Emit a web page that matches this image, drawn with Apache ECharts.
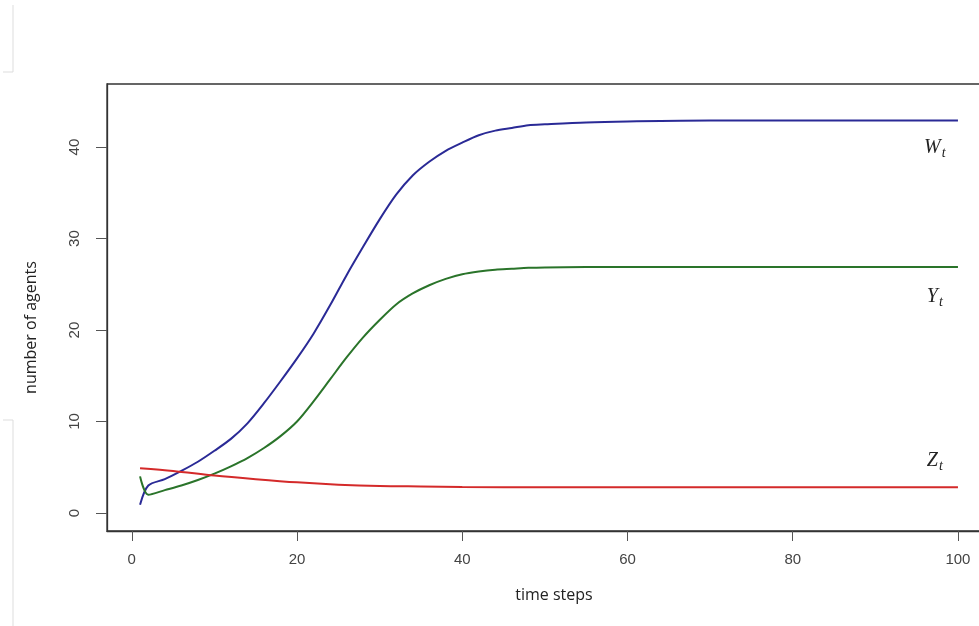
<!DOCTYPE html>
<html>
<head>
<meta charset="utf-8">
<script src="https://cdn.jsdelivr.net/npm/echarts@6/dist/echarts.min.js"></script>
<style>
  html, body { margin: 0; padding: 0; background: #fff; }
  #chart { width: 979px; height: 626px; }
</style>
</head>
<body>
<div id="chart"></div>
<script>
var tW = [1, 2, 4, 6, 8, 10, 12, 14, 16, 18, 20, 22, 24, 26, 28, 30, 32, 34, 36, 38, 40, 42, 44, 46, 48, 50, 55, 60, 70, 80, 90, 100];
var wValues = [0.9, 3.0, 3.7, 4.6, 5.6, 6.8, 8.1, 9.8, 12.0, 14.4, 16.9, 19.6, 22.7, 26.0, 29.1, 32.1, 34.8, 36.9, 38.4, 39.6, 40.5, 41.3, 41.8, 42.1, 42.4, 42.5, 42.7, 42.8, 42.9, 42.9, 42.9, 42.9];
var yValues = [4.0, 2.0, 2.5, 3.0, 3.6, 4.3, 5.1, 6.0, 7.1, 8.4, 10.0, 12.2, 14.6, 17.0, 19.2, 21.1, 22.8, 24.0, 24.9, 25.6, 26.1, 26.4, 26.6, 26.7, 26.8, 26.85, 26.9, 26.9, 26.9, 26.9, 26.9, 26.9];
var tZ = [1, 5, 10, 15, 20, 25, 30, 35, 40, 50, 60, 70, 80, 90, 100];
var zValues = [4.9, 4.6, 4.1, 3.7, 3.35, 3.1, 2.95, 2.9, 2.85, 2.8, 2.8, 2.8, 2.8, 2.8, 2.8];

var xTicks = [0, 20, 40, 60, 80, 100];
var yTicks = [0, 10, 20, 30, 40];

function pairs(xs, ys) {
  var out = [];
  for (var i = 0; i < xs.length; i++) out.push([xs[i], ys[i]]);
  return out;
}

// curve name label (W_t etc) placed near the right end
function nameMark(letter, v) {
  return {
    symbol: 'circle',
    symbolSize: 1,
    itemStyle: { color: 'rgba(0,0,0,0)' },
    label: {
      show: true,
      position: 'inside',
      formatter: '{a|' + letter + '}{b|t}',
      rich: {
        a: { fontFamily: 'Liberation Serif', fontStyle: 'italic', fontSize: 20, color: '#222' },
        b: { fontFamily: 'Liberation Serif', fontStyle: 'italic', fontSize: 14, color: '#222', padding: [10, 0, 0, 1] }
      }
    },
    data: [{ coord: [97.2, v] }]
  };
}

var chart = echarts.init(document.getElementById('chart'));

var option = {
  animation: false,
  backgroundColor: '#fff',
  grid: {
    left: 107,
    top: 84,
    width: 884,
    bottom: 95,
    outerBoundsMode: 'none',
    show: true,
    borderColor: '#333',
    borderWidth: 1.3,
    containLabel: false
  },
  xAxis: {
    type: 'value',
    min: -3,
    max: 104,
    name: 'time steps',
    nameLocation: 'middle',
    nameGap: 56,
    nameTextStyle: { fontFamily: 'Open Sans', fontSize: 16, color: '#222', padding: [0, 0, 0, 10] },
    splitLine: { show: false },
    axisLine: { show: true, onZero: false, lineStyle: { color: '#333', width: 1.3 } },
    axisTick: { show: true, inside: false, length: 10, customValues: xTicks, lineStyle: { color: '#555' } },
    axisLabel: { customValues: xTicks, margin: 21, fontFamily: 'Liberation Sans', fontSize: 15, color: '#444' }
  },
  yAxis: {
    type: 'value',
    min: -1.97,
    max: 46.9,
    name: 'number of agents',
    nameLocation: 'middle',
    nameRotate: 90,
    nameGap: 68,
    nameTextStyle: { fontFamily: 'Open Sans', fontSize: 16, color: '#222', padding: [0, 40, 0, 0] },
    splitLine: { show: false },
    axisLine: { show: true, onZero: false, lineStyle: { color: '#333', width: 1.3 } },
    axisTick: { show: true, inside: false, length: 11, customValues: yTicks, lineStyle: { color: '#555' } },
    axisLabel: { customValues: yTicks, rotate: 90, margin: 25, fontFamily: 'Liberation Sans', fontSize: 15, color: '#444' }
  },
  graphic: [
    { type: 'polyline', shape: { points: [[13, 5], [13, 72], [3, 72]] }, style: { stroke: '#ddd', lineWidth: 1, fill: null } },
    { type: 'polyline', shape: { points: [[3, 420], [13, 420], [13, 626]] }, style: { stroke: '#ddd', lineWidth: 1, fill: null } }
  ],
  series: [
    {
      name: 'W',
      type: 'line',
      data: pairs(tW, wValues),
      showSymbol: false,
      smooth: 0.3,
      lineStyle: { color: '#2a2a96', width: 2 },
      markPoint: nameMark('W', 39.9)
    },
    {
      name: 'Y',
      type: 'line',
      data: pairs(tW, yValues),
      showSymbol: false,
      smooth: 0.3,
      lineStyle: { color: '#2a742a', width: 2 },
      markPoint: nameMark('Y', 23.6)
    },
    {
      name: 'Z',
      type: 'line',
      data: pairs(tZ, zValues),
      showSymbol: false,
      smooth: 0.3,
      lineStyle: { color: '#d42a2a', width: 2 },
      markPoint: nameMark('Z', 5.7)
    }
  ]
};

chart.setOption(option);

window.onresize = function () {
  chart.resize();
};
</script>
</body>
</html>
